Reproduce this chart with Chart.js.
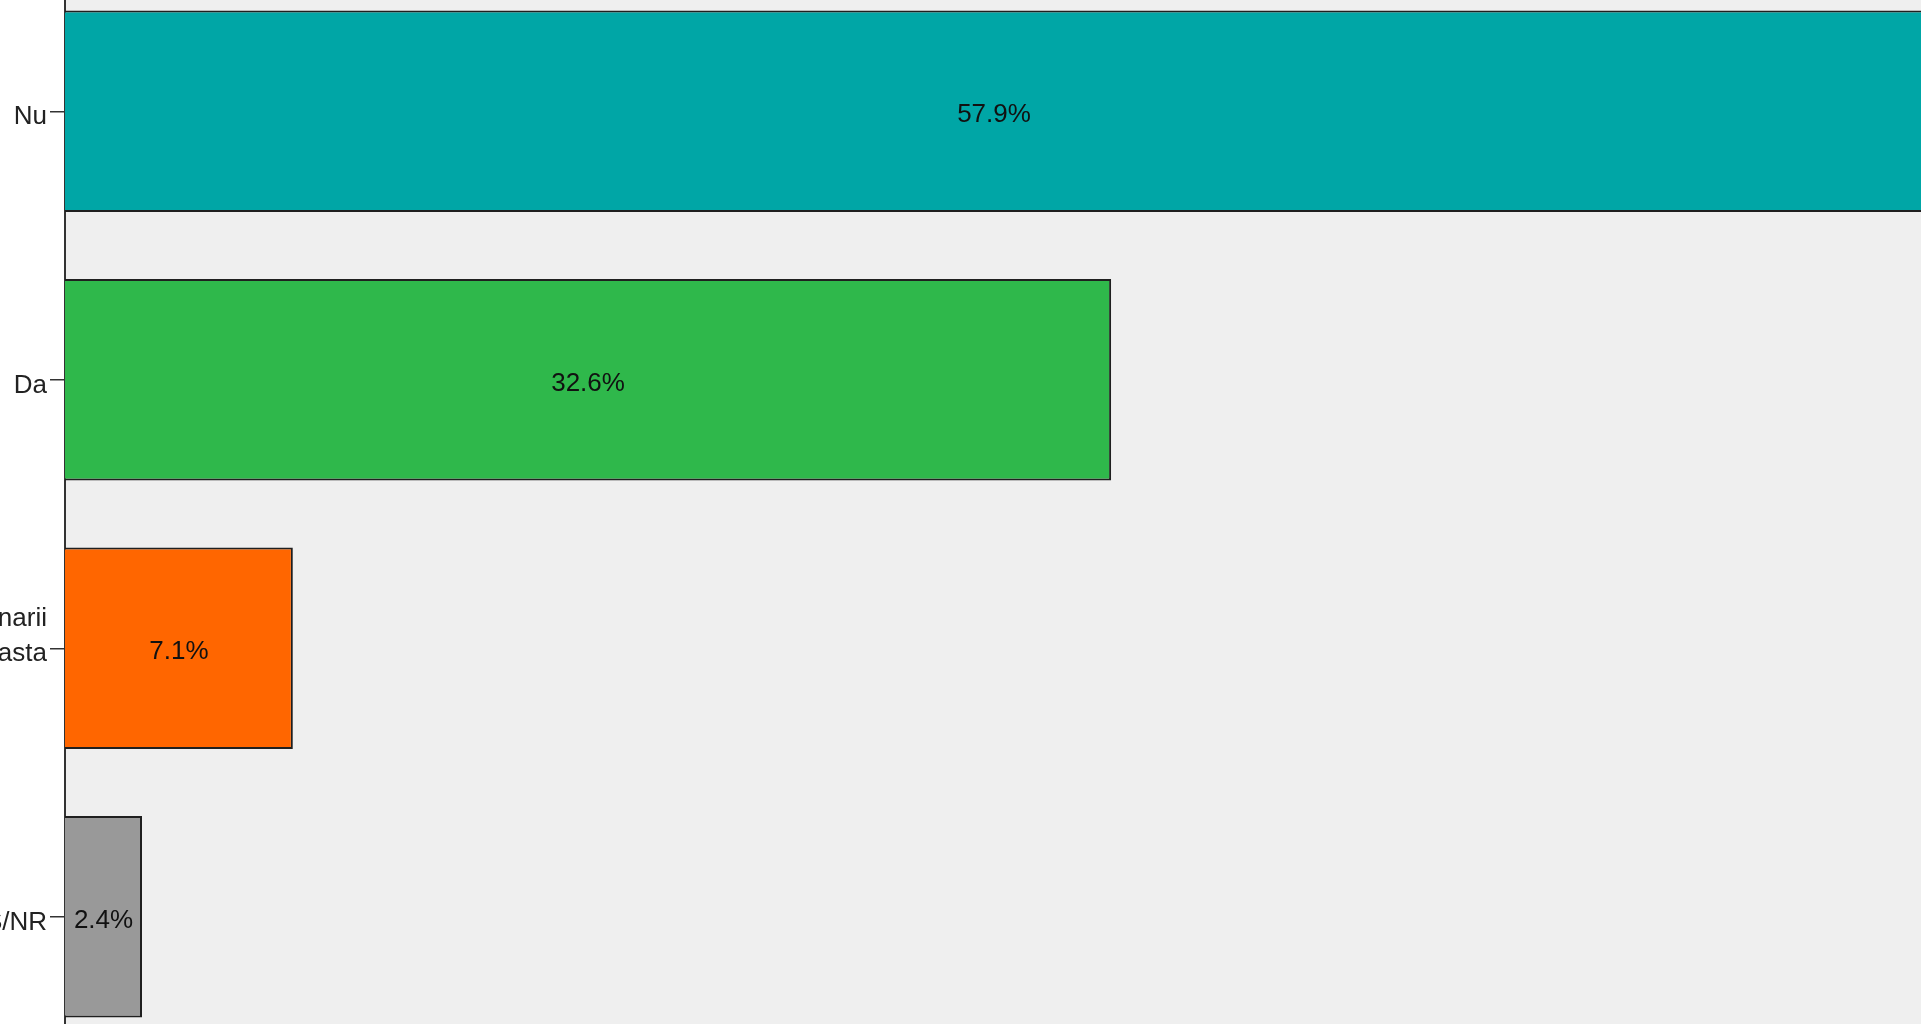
<!DOCTYPE html>
<html lang="ro">
<head>
    <meta charset="UTF-8">
    <title>Raspunsuri</title>
    <script src="https://cdn.jsdelivr.net/npm/chart.js"></script>
    <style>
        html, body {
            margin: 0;
            padding: 0;
            background-color: #ffffff;
            overflow: hidden;
            width: 1921px;
            height: 1024px;
        }

        /* the chart is a crop of a larger figure, so the canvas runs past the window */
        .chart-box {
            position: absolute;
            left: 0;
            top: -23px;
            width: 1923px;
            height: 1074px;
        }
    </style>
</head>
<body>

<div class="chart-box">
    <canvas id="barChart"></canvas>
</div>

<script>
    // data
    const categories = [
        'Nu',
        'Da',
        ['Nu am auzit de initiativa guvernarii', 'Nu stiu nimic despre asta', ''],
        'NS/NR'
    ];
    const percentages = [57.9, 32.6, 7.1, 2.4];
    const barColors = ['#00a6a6', '#2fb84b', '#ff6600', '#999999'];

    // grey plot background
    const plotBackground = {
        id: 'plotBackground',
        beforeDraw(chart) {
            const { ctx, chartArea } = chart;
            ctx.save();
            ctx.fillStyle = '#efefef';
            ctx.fillRect(chartArea.left, chartArea.top, chartArea.right - chartArea.left, chartArea.bottom - chartArea.top);
            ctx.restore();
        }
    };

    // percentage printed in the middle of each bar
    const barValues = {
        id: 'barValues',
        afterDatasetsDraw(chart) {
            const ctx = chart.ctx;
            const meta = chart.getDatasetMeta(0);
            ctx.save();
            ctx.font = '26px "Liberation Sans", Arial, sans-serif';
            ctx.fillStyle = '#111111';
            ctx.textAlign = 'center';
            ctx.textBaseline = 'middle';
            meta.data.forEach((bar, i) => {
                const { x, y, base } = bar.getProps(['x', 'y', 'base'], true);
                ctx.fillText(percentages[i].toFixed(1) + '%', (x + base) / 2, y + 4);
            });
            ctx.restore();
        }
    };

    const ctx = document.getElementById('barChart').getContext('2d');
    const barChart = new Chart(ctx, {
        type: 'bar',
        data: {
            labels: categories,
            datasets: [{
                data: percentages,
                backgroundColor: barColors,
                borderColor: '#1f1f1f',
                borderWidth: 2,
                borderSkipped: 'start',
                barPercentage: 0.75,
                categoryPercentage: 1.0
            }]
        },
        options: {
            indexAxis: 'y',
            responsive: true,
            maintainAspectRatio: false,
            animation: false,
            layout: { padding: 0 },
            plugins: {
                legend: { display: false },
                tooltip: { enabled: false }
            },
            scales: {
                x: {
                    display: false,
                    min: 0,
                    max: 57.9
                },
                y: {
                    offset: true,
                    border: { display: true, color: '#333333', width: 2 },
                    grid: {
                        offset: false,
                        drawOnChartArea: false,
                        drawTicks: true,
                        tickLength: 15,
                        color: '#333333',
                        lineWidth: 1.5
                    },
                    ticks: {
                        color: '#222222',
                        padding: 3,
                        labelOffset: 6,
                        font: { family: '"Liberation Sans", Arial, sans-serif', size: 26, lineHeight: 1.35 }
                    },
                    afterFit(scale) {
                        // fixed axis width, labels run off the left edge like in the crop
                        scale.width = 65;
                        scale.paddingTop = 0;
                        scale.paddingBottom = 0;
                    }
                }
            }
        },
        plugins: [plotBackground, barValues]
    });
</script>
</body>
</html>
